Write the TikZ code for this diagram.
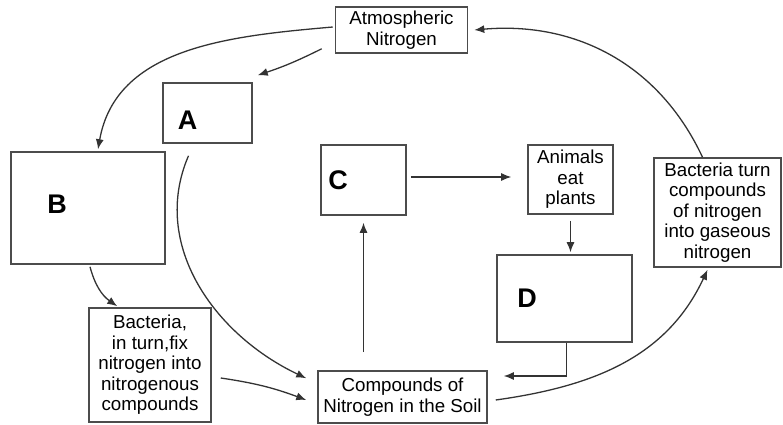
\documentclass[tikz,border=0pt]{standalone}
\usepackage{fontspec}
\setmainfont{Liberation Sans}
\usetikzlibrary{arrows.meta,calc}

\tikzset{
	box/.style={draw=black!70,line width=1.3pt,inner sep=0pt,align=center,font=\fontsize{16}{17.5}\selectfont},
	letter/.style={font=\fontsize{23}{24}\selectfont\bfseries},
	link/.style={draw=black!80,line width=1.1pt,-{Latex[length=3mm,width=2.4mm]}}
}

\begin{document}
\begin{tikzpicture}[x=0.03cm,y=-0.03cm]
	\fill[white] (0,0) rectangle (783,425);
	\useasboundingbox (0,0) rectangle (783,425);
\node[box,minimum width=3.96cm,minimum height=1.38cm] (atm) at (401.5,30) {Atmospheric\\Nitrogen};
\node[box,minimum width=2.67cm,minimum height=1.8cm] (boxA) at (207.5,113) {};
\node[box,minimum width=4.62cm,minimum height=3.36cm] (boxB) at (88,208) {};
\node[box,minimum width=3.66cm,minimum height=3.42cm] (fix) at (150,365) {Bacteria,\\in turn,fix\\nitrogen into\\nitrogenous\\compounds};
\node[box,minimum width=5.07cm,minimum height=1.56cm] (soil) at (402.5,397) {Compounds of\\Nitrogen in the Soil};
\node[box,minimum width=2.55cm,minimum height=2.1cm] (boxC) at (363.5,180) {};
\node[box,minimum width=2.55cm,minimum height=2.07cm] (eat) at (570.5,179.5) {Animals\\eat\\plants};
\node[box,minimum width=4.05cm,minimum height=2.61cm] (boxD) at (564.5,298.5) {};
\node[box,minimum width=3.81cm,minimum height=3.27cm] (gas) at (717.5,212.5) {Bacteria turn\\compounds\\of nitrogen\\into gaseous\\nitrogen};
\node[letter] (labA) at (187.5,120) {A};
\node[letter] (labB) at (57,204) {B};
\node[letter] (labC) at (338,180) {C};
\node[letter] (labD) at (527,298) {D};
\draw[link] ($(atm.west)+(-2,-3)$) to[out=185,in=80] ($(boxB.north)+(10,-2)$);
\draw[link] ($(atm.south west)+(-13,-5)$) to[bend left=4] ($(boxA.north east)+(5,-7)$);
\draw[link] ($(boxA.south)+(-19,12)$) .. controls (150,245) and (215,335) .. ($(soil.north west)+(-11,8)$);
\draw[link] ($(boxB.south)+(2,2)$) to[out=-75,in=145] ($(fix.north west)+(29,-1)$);
\draw[link] ($(fix.east)+(9,13)$) to[bend left=6] ($(soil.west)+(-11,3)$);
\draw[link] ($(boxC.south|-soil.north)+(0,-18)$) -- ($(boxC.south)+(0,7)$);
\draw[link] ($(boxC.east)+(4,-3)$) -- ($(eat.west)+(-16,-2.5)$);
\draw[link] ($(eat.south)+(0,6)$) -- ($(eat.south|-boxD.north)+(0,-2)$);
\draw[link] ($(boxD.south)+(2,0)$) |- ($(soil.east)+(16,-21)$);
\draw[link] ($(soil.east)+(8,3)$) to[out=8,in=-115] ($(gas.south)+(-10,2)$);
\draw[link] ($(gas.north)+(-15,0)$) to[out=115,in=5] ($(atm.east)+(6,0)$);
\end{tikzpicture}
\end{document}
